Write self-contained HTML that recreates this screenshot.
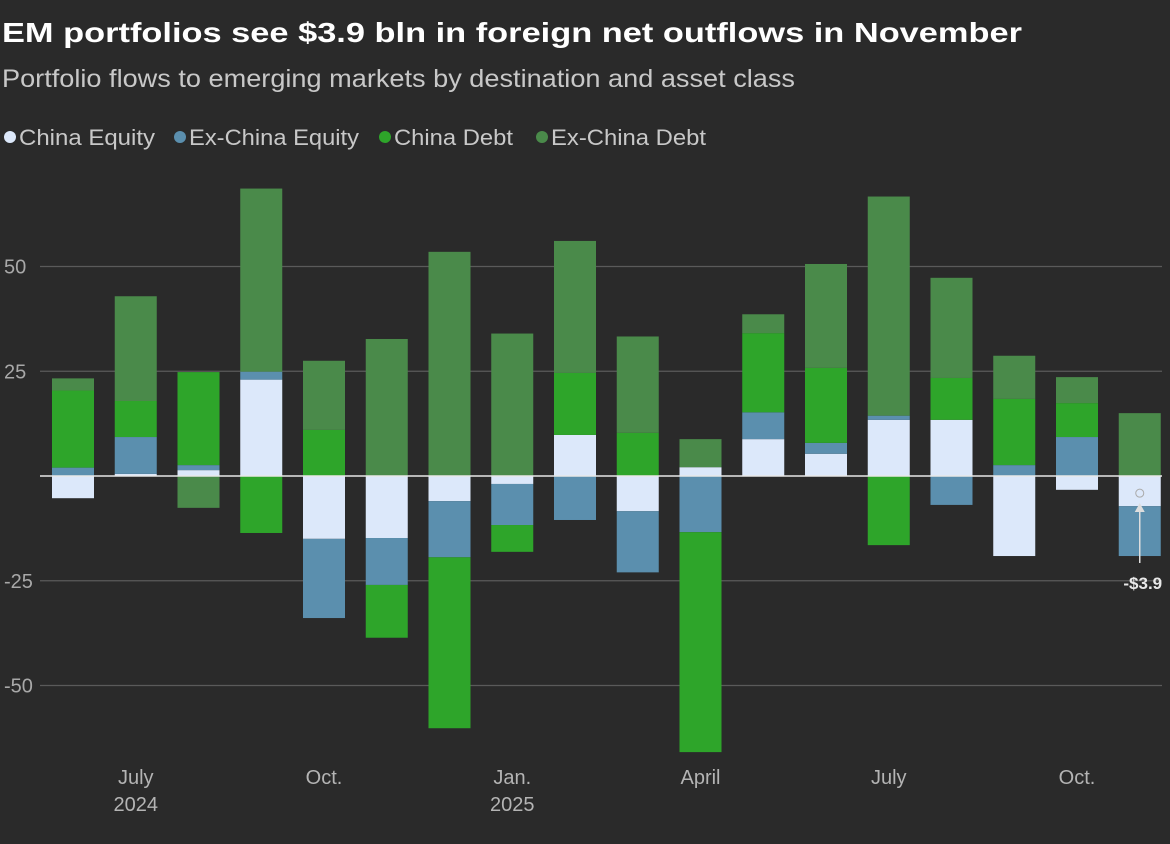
<!DOCTYPE html>
<html><head><meta charset="utf-8"><style>
html,body{margin:0;padding:0;background:#2a2a2a;}
#wrap{position:relative;width:1170px;height:844px;overflow:hidden;background:#2a2a2a;font-family:"Liberation Sans","Noto Sans CJK SC",sans-serif;}
</style></head><body>
<div id="wrap">
<svg id="chart" width="1170" height="844">
<text x="2" y="42" fill="#ffffff" font-size="28" font-weight="bold" textLength="1020" lengthAdjust="spacingAndGlyphs">EM portfolios see $3.9 bln in foreign net outflows in November</text>
<text x="2" y="87" fill="#c8c8c8" font-size="25" textLength="793" lengthAdjust="spacingAndGlyphs">Portfolio flows to emerging markets by destination and asset class</text>
<g id="legend"></g>
<g id="grid"></g>
<g id="bars"></g>
<g id="xaxis"></g>
<g id="annot"></g>
</svg>
</div>
<script>
const months = ["Jun 2024","Jul 2024","Aug 2024","Sep 2024","Oct 2024","Nov 2024","Dec 2024","Jan 2025","Feb 2025","Mar 2025","Apr 2025","May 2025","Jun 2025","Jul 2025","Aug 2025","Sep 2025","Oct 2025","Nov 2025"];
const chinaEquity   = [-5.3,0.5,1.4,23,-15,-14.8,-6,-1.9,9.8,-8.4,2.1,8.8,5.3,13.4,13.4,-19.1,-3.3,-7.2];
const exChinaEquity = [2,8.8,1.2,1.9,-18.9,-11.2,-13.4,-9.8,-10.5,-14.6,-13.4,6.4,2.6,1,-6.9,2.6,9.3,-11.9];
const chinaDebt     = [18.4,8.6,22.2,-13.6,11,-12.6,-40.8,-6.4,14.8,10.3,-52.5,18.9,17.9,-16.5,10,15.8,8.1,0];
const exChinaDebt   = [2.9,25,-7.6,43.7,16.5,32.7,53.5,34,31.5,23,6.7,4.5,24.8,52.3,23.9,10.3,6.2,15];
const yTicks = [50,25,-25,-50];
const xLabels = [["July","2024",1],["Oct.","",4],["Jan.","2025",7],["April","",10],["July","",13],["Oct.","",16]];
const seriesNames = ["China Equity","Ex-China Equity","China Debt","Ex-China Debt"];
const colors = ["#dce8fa","#5b8fae","#2ea52a","#4a8a4a"];
const NS="http://www.w3.org/2000/svg";
function y(v){return 476 - v*4.19;}
function xc(i){return 73 + i*62.75;}
function mk(tag,attrs,parent){const e=document.createElementNS(NS,tag);for(const k in attrs)e.setAttribute(k,attrs[k]);parent.appendChild(e);return e;}
// legend
const lg=document.getElementById('legend');
const lx=[2,172,377,534];
const lw=[136,170,119,155];
seriesNames.forEach((n,i)=>{
  const g=mk('g',{},lg);
  
  
  mk('circle',{cx:lx[i]+8,cy:137,r:6,fill:colors[i]},g);
  const t=mk('text',{x:lx[i]+17,y:145,fill:'#c8c8c8','font-size':22,textLength:lw[i],lengthAdjust:'spacingAndGlyphs'},g);t.textContent=n;
});
// grid
const gr=document.getElementById('grid');
yTicks.forEach(v=>{
  const l=mk('line',{x1:40,x2:1162,y1:y(v),y2:y(v),stroke:'#5a5a5a','stroke-width':1.2},gr);
  
  
  const t=mk('text',{x:4,y:y(v)+7,fill:'#a8a8a8','font-size':20},gr);
  
  
  t.textContent=v;
});
// bars
const bg=document.getElementById('bars');
const series=[chinaEquity,exChinaEquity,chinaDebt,exChinaDebt];
months.forEach((m,i)=>{
  let pos=0,neg=0;
  series.forEach((s,k)=>{
    const v=s[i]; if(!v) return;
    let a,b;
    if(v>0){a=pos;b=pos+v;pos=b;}else{a=neg;b=neg+v;neg=b;}
    const r=mk('rect',{x:xc(i)-21,width:42,y:Math.min(y(a),y(b)),height:Math.abs(y(a)-y(b)),fill:colors[k]},bg);
    
    
  });
});
mk('line',{x1:40,x2:1162,y1:y(0),y2:y(0),stroke:'#e8e8e8','stroke-width':1.5},bg);
// x axis
const xa=document.getElementById('xaxis');
xLabels.forEach(([a,b,i])=>{
  const t=mk('text',{x:xc(i),y:784,fill:'#b4b4b4','font-size':20,'text-anchor':'middle'},xa);
  
  
  t.textContent=a;
  if(b){const t2=mk('text',{x:xc(i),y:811,fill:'#b4b4b4','font-size':20,'text-anchor':'middle'},xa);
  
  
  t2.textContent=b;}
});
// annotation
const an=document.getElementById('annot');
const last=months.length-1;
const net=chinaEquity[last]+exChinaEquity[last]+chinaDebt[last]+exChinaDebt[last];
mk('circle',{cx:xc(last),cy:y(net),r:4,fill:'none',stroke:'#aaa','stroke-width':1},an);
mk('line',{x1:xc(last),x2:xc(last),y1:563,y2:510,stroke:'#ddd','stroke-width':1.5},an);
mk('path',{d:`M${xc(last)-5},512 L${xc(last)},503 L${xc(last)+5},512 Z`,fill:'#ddd'},an);
const at=mk('text',{x:xc(last)+3,y:589,fill:'#e8e8e8','font-size':17,'font-weight':'bold','text-anchor':'middle'},an);


at.textContent='-$3.9';
</script>
</body></html>
